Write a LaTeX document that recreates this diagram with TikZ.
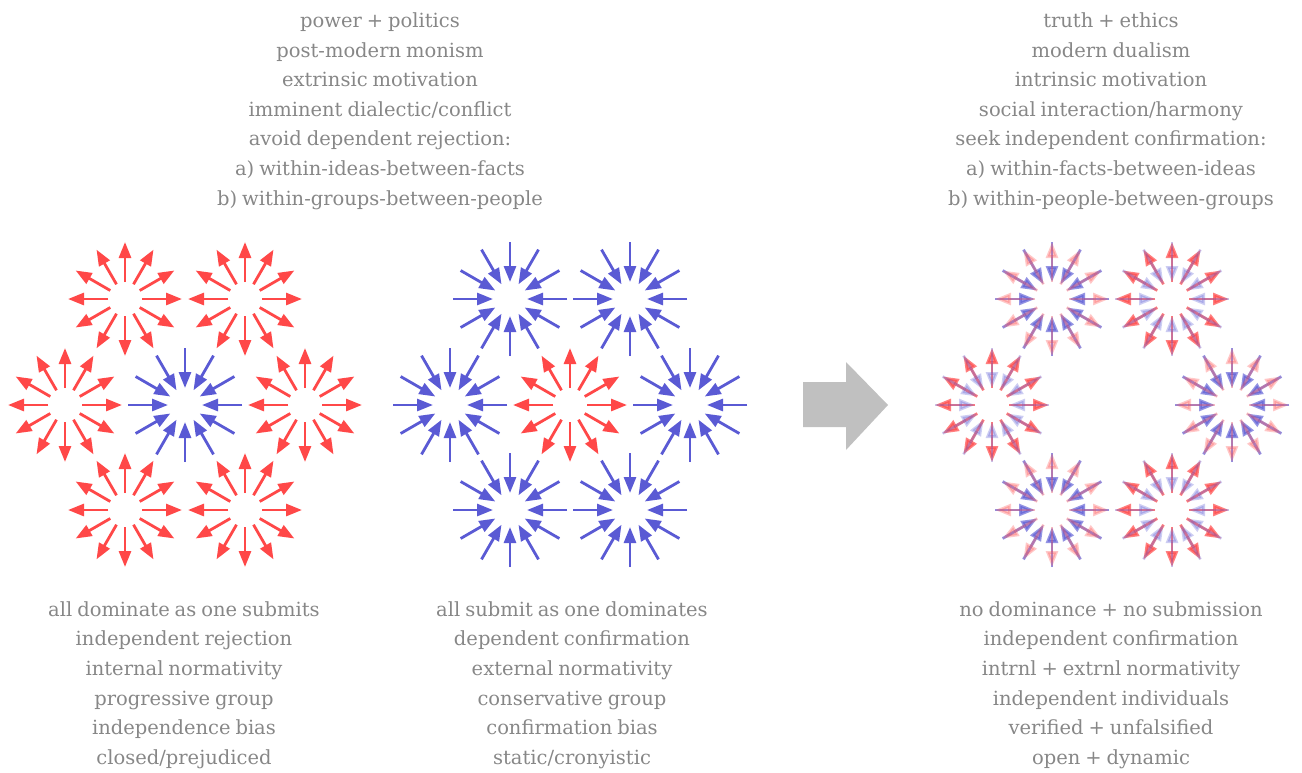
\documentclass[tikz,border=0pt]{standalone}
\usepackage{fontspec}
\setmainfont[WordSpace=0.8]{DejaVu Serif}
\usetikzlibrary{arrows.meta}
\definecolor{rd}{RGB}{255,72,72}
\definecolor{bl}{RGB}{90,90,212}
\definecolor{tx}{RGB}{135,135,135}
\definecolor{gar}{RGB}{192,192,192}
\tikzset{
  outarr/.style={draw=rd, fill=rd, line width=2.8pt, -{Triangle[length=16pt,width=12pt]}},
  inarr/.style={draw=bl, fill=bl, line width=2.8pt, -{Triangle[length=16pt,width=12pt]}},
  lbl/.style={text=tx, align=center, font=\fontsize{19.5}{29.6}\selectfont, inner sep=0pt}
}
\newcommand\burstout[2][1]{%
  \foreach \a in {0,30,...,330}{\draw[outarr, opacity=#1] (#2) ++(\a:17) -- ++(\a:40);}}
\newcommand\burstin[2][1]{%
  \foreach \a in {0,30,...,330}{\draw[inarr, opacity=#1] (#2) ++(\a:57) -- ++(\a+180:40);}}
\begin{document}
\begin{tikzpicture}[x=1pt,y=-1pt]
\useasboundingbox (0,0) rectangle (1302,772);
% left group
\coordinate (L1) at (125,299); \coordinate (L2) at (245,299);
\coordinate (L3) at (65,405);  \coordinate (L4) at (185,405); \coordinate (L5) at (305,405);
\coordinate (L6) at (125,510); \coordinate (L7) at (245,510);
\burstout{L1}\burstout{L2}\burstout{L3}\burstin{L4}\burstout{L5}\burstout{L6}\burstout{L7}
% middle group
\coordinate (M1) at (510,299); \coordinate (M2) at (630,299);
\coordinate (M3) at (450,405); \coordinate (M4) at (570,405); \coordinate (M5) at (690,405);
\coordinate (M6) at (510,510); \coordinate (M7) at (630,510);
\burstin{M1}\burstin{M2}\burstin{M3}\burstout{M4}\burstin{M5}\burstin{M6}\burstin{M7}
% right group
\coordinate (R1) at (1052,299); \coordinate (R2) at (1172,299);
\coordinate (R3) at (992,405); \coordinate (R5) at (1232,405);
\coordinate (R6) at (1052,510); \coordinate (R7) at (1172,510);
\burstin[0.65]{R1}\burstout[0.3]{R1}
\burstout[0.7]{R2}\burstin[0.3]{R2}
\burstout[0.7]{R3}\burstin[0.3]{R3}
\burstin[0.65]{R5}\burstout[0.3]{R5}
\burstin[0.65]{R6}\burstout[0.3]{R6}
\burstout[0.7]{R7}\burstin[0.3]{R7}
% big grey arrow
\fill[gar] (803,382) -- (846,382) -- (846,362) -- (888,405) -- (846,450) -- (846,427) -- (803,427) -- cycle;
% texts
\node[lbl] (tl) at (380,111) {power + politics\\post-modern monism\\extrinsic motivation\\imminent dialectic/conflict\\avoid dependent rejection:\\a) within-ideas-between-facts\\b) within-groups-between-people};
\node[lbl] (tr) at (1111,111) {truth + ethics\\modern dualism\\intrinsic motivation\\social interaction/harmony\\seek independent confirmation:\\a) within-facts-between-ideas\\b) within-people-between-groups};
\node[lbl] (bl) at (184,685) {all dominate as one submits\\independent rejection\\internal normativity\\progressive group\\independence bias\\closed/prejudiced};
\node[lbl] (bm) at (572,685) {all submit as one dominates\\dependent confirmation\\external normativity\\conservative group\\confirmation bias\\static/cronyistic};
\node[lbl] (br) at (1111,685) {no dominance + no submission\\independent confirmation\\intrnl + extrnl normativity\\independent individuals\\verified + unfalsified\\open + dynamic};
\end{tikzpicture}
\end{document}
